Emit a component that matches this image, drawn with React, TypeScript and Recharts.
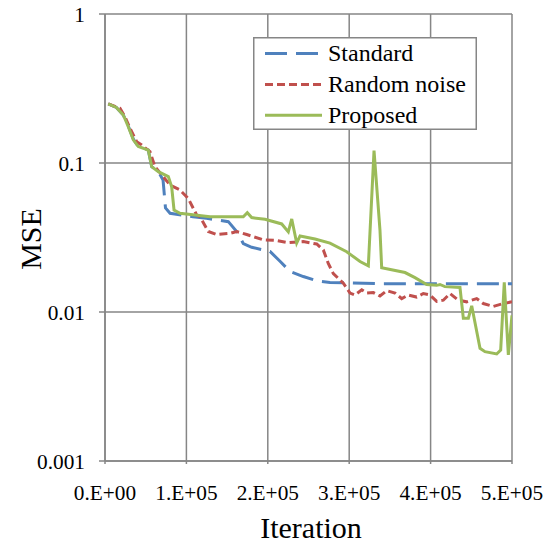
import React from "react";
import { LineChart, Line, XAxis, YAxis, CartesianGrid } from "recharts";

const xTicks = [0, 100000, 200000, 300000, 400000, 500000];
const xTickLabels = ["0.E+00", "1.E+05", "2.E+05", "3.E+05", "4.E+05", "5.E+05"];
const yTicks = [0.001, 0.01, 0.1, 1];
const yTickLabels = ["0.001", "0.01", "0.1", "1"];

const standardIter = [4000, 14000, 22500, 28600, 34800, 40900, 53200, 57400, 65500, 71300, 74300, 79900, 108100, 124900, 151500, 161800, 169900, 180200, 194500, 202700, 215000, 227300, 243600, 260100, 276400, 296900, 337800, 399300, 500000];
const standardMse = [0.249, 0.236, 0.21, 0.177, 0.145, 0.129, 0.122, 0.0944, 0.0874, 0.077, 0.0499, 0.046, 0.0436, 0.0425, 0.0404, 0.0347, 0.0288, 0.0272, 0.0261, 0.0255, 0.0219, 0.0187, 0.0173, 0.0162, 0.0158, 0.0157, 0.0155, 0.0155, 0.0155];

const randomIter = [4000, 18400, 24600, 30700, 38900, 45100, 55300, 61400, 69700, 79900, 92100, 102300, 112700, 116700, 126900, 137200, 153600, 161800, 174100, 194500, 210900, 225200, 243600, 260100, 268200, 274300, 280500, 292800, 301000, 307100, 315400, 321500, 329600, 337800, 346100, 356300, 364500, 372600, 382900, 391000, 399300, 407500, 415600, 423800, 434000, 444300, 456600, 464700, 477000, 489300, 500000];
const randomMse = [0.249, 0.233, 0.204, 0.171, 0.139, 0.132, 0.119, 0.0944, 0.0833, 0.0711, 0.0659, 0.0578, 0.0447, 0.0436, 0.0347, 0.0331, 0.0337, 0.0347, 0.0331, 0.0305, 0.0302, 0.0292, 0.0297, 0.0286, 0.0261, 0.0212, 0.0181, 0.0156, 0.0134, 0.013, 0.0141, 0.0134, 0.0135, 0.0128, 0.0139, 0.0134, 0.0123, 0.013, 0.0126, 0.0133, 0.013, 0.0118, 0.012, 0.0133, 0.012, 0.0117, 0.0123, 0.0114, 0.0109, 0.0114, 0.0117];

const proposedIter = [4000, 14000, 22500, 28600, 34800, 40900, 53200, 57400, 65500, 77800, 81900, 84800, 92100, 129000, 169900, 174800, 180200, 196600, 217100, 225200, 229400, 235500, 239600, 258000, 276400, 296900, 313300, 323500, 330500, 337800, 339900, 368600, 380800, 395200, 407500, 411500, 417600, 436100, 440200, 446400, 450500, 460700, 466800, 481200, 486100, 490500, 495500, 500000];
const proposedMse = [0.249, 0.236, 0.21, 0.175, 0.143, 0.129, 0.122, 0.0944, 0.0874, 0.081, 0.0693, 0.0484, 0.046, 0.0436, 0.0436, 0.0464, 0.043, 0.0419, 0.039, 0.0345, 0.0421, 0.029, 0.0324, 0.0309, 0.029, 0.0254, 0.0218, 0.0204, 0.121, 0.0355, 0.0198, 0.0184, 0.017, 0.0153, 0.0151, 0.0153, 0.0148, 0.0146, 0.00908, 0.00908, 0.011, 0.00571, 0.00542, 0.00523, 0.00556, 0.0158, 0.00515, 0.0095];

const zip = (xs: number[], ys: number[]) => xs.map((x, i) => ({ x, y: ys[i] }));
const standardData = zip(standardIter, standardMse);
const randomData = zip(randomIter, randomMse);
const proposedData = zip(proposedIter, proposedMse);

const FONT = "'Liberation Serif', 'Times New Roman', serif";
const GRID = "#868686";
const BLUE = "#4F81BD";
const RED = "#C0504D";
const GREEN = "#9BBB59";

const series = [
  { name: "Standard", color: BLUE, dash: "22 9" },
  { name: "Random noise", color: RED, dash: "8 4" },
  { name: "Proposed", color: GREEN, dash: undefined as string | undefined },
];

const LegendBox = () => (
  <svg width={224} height={93} style={{ display: "block" }}>
    <rect x={0.75} y={0.75} width={222.5} height={91.5} fill="#fff" stroke={GRID} strokeWidth={1.5} />
    {series.map((s, i) => {
      const cy = 16.6 + i * 30.8;
      return (
        <g key={s.name}>
          <line x1={12} x2={69} y1={cy} y2={cy} stroke={s.color} strokeWidth={3} strokeDasharray={s.dash} />
          <text x={75} y={cy + 7.5} fontFamily={FONT} fontSize={24} fill="#000">
            {s.name}
          </text>
        </g>
      );
    })}
  </svg>
);

export default function App() {
  return (
    <div style={{ position: "absolute", left: 0, top: 0, width: 551, height: 544, background: "#fff" }}>
      <LineChart width={551} height={544} margin={{ top: 14, right: 39, bottom: 0, left: 0 }}>
        <CartesianGrid stroke={GRID} strokeWidth={1.5} />
        <XAxis
          type="number"
          dataKey="x"
          domain={[0, 500000]}
          ticks={xTicks}
          allowDataOverflow
          height={83}
          interval={0}
          tickFormatter={(v: number) => xTickLabels[xTicks.indexOf(v)] ?? ""}
          tick={{ fontFamily: FONT, fontSize: 21.3, fill: "#000" }}
          axisLine={{ stroke: GRID, strokeWidth: 1.5 }}
          tickLine={{ stroke: GRID, strokeWidth: 1.5 }}
          tickSize={3}
          tickMargin={21}
          label={{
            content: () => (
              <text x={311} y={538} textAnchor="middle" fontFamily={FONT} fontSize={30} fill="#000">
                Iteration
              </text>
            ),
          }}
        />
        <YAxis
          type="number"
          dataKey="y"
          scale="log"
          domain={[0.001, 1]}
          ticks={yTicks}
          allowDataOverflow
          width={105}
          interval={0}
          tickFormatter={(v: number) => yTickLabels[yTicks.indexOf(v)] ?? ""}
          tick={{ fontFamily: FONT, fontSize: 21.3, fill: "#000" }}
          axisLine={{ stroke: GRID, strokeWidth: 1.5 }}
          tickLine={{ stroke: GRID, strokeWidth: 1.5 }}
          tickSize={6}
          tickMargin={14}
          label={{
            content: () => (
              <text
                x={41}
                y={239}
                transform="rotate(-90, 41, 239)"
                textAnchor="middle"
                fontFamily={FONT}
                fontSize={30}
                fill="#000"
              >
                MSE
              </text>
            ),
          }}
        />
        <Line
          data={standardData}
          dataKey="y"
          name="Standard"
          type="linear"
          stroke={BLUE}
          strokeWidth={3}
          strokeDasharray="22 9"
          dot={false}
          activeDot={false}
          isAnimationActive={false}
        />
        <Line
          data={randomData}
          dataKey="y"
          name="Random noise"
          type="linear"
          stroke={RED}
          strokeWidth={3}
          strokeDasharray="8 4"
          dot={false}
          activeDot={false}
          isAnimationActive={false}
        />
        <Line
          data={proposedData}
          dataKey="y"
          name="Proposed"
          type="linear"
          stroke={GREEN}
          strokeWidth={3}
          dot={false}
          activeDot={false}
          isAnimationActive={false}
        />
      </LineChart>
      <div style={{ position: "absolute", left: 253, top: 37, width: 224, height: 93 }}>
        <LegendBox />
      </div>
    </div>
  );
}
